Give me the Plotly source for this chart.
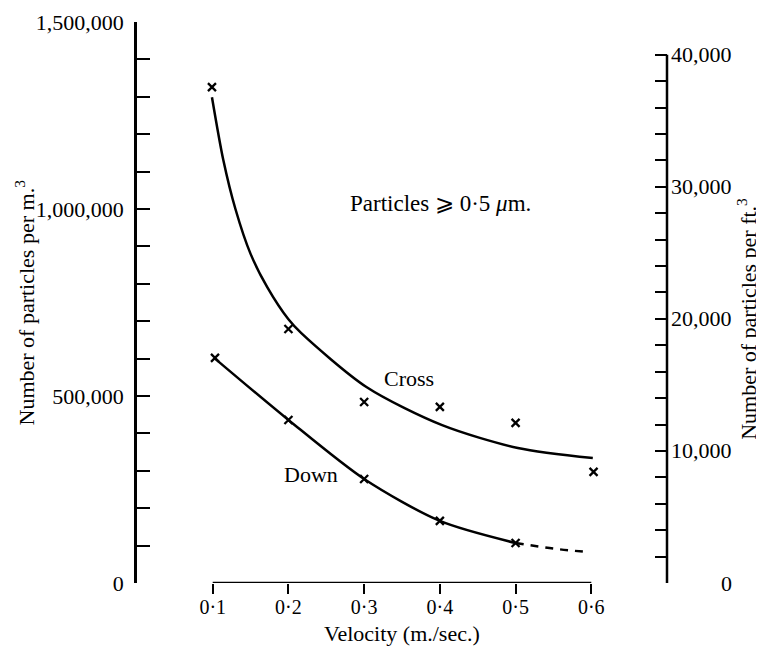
import plotly.graph_objects as go

# ---------------- data ----------------
x_tick_vals = [0.1, 0.2, 0.3, 0.4, 0.5, 0.6]
x_tick_text = ["0·1", "0·2", "0·3", "0·4", "0·5", "0·6"]

left_tick_vals = [i * 100000 for i in range(16)]
left_tick_text = ["0", "", "", "", "", "500,000", "", "", "", "",
                  "1,000,000", "", "", "", "", "1,500,000"]

right_tick_vals = [i * 2000 for i in range(21)]
right_label_vals = [0, 10000, 20000, 30000, 40000]
right_label_text = ["0", "10,000", "20,000", "30,000", "40,000"]

M3_PER_FT3 = 35.3147  # particles per m3 = particles per ft3 * 35.3147

# measured points (particles per m3)
cross_x = [0.099, 0.2, 0.3, 0.4, 0.5, 0.603]
cross_y = [1326000, 679000, 484000, 471000, 428000, 297000]
down_x = [0.103, 0.2, 0.3, 0.4, 0.5]
down_y = [602000, 436000, 278000, 166000, 107000]

# hand-drawn fitted curves
cross_curve_x = [0.099, 0.114, 0.130, 0.150, 0.172, 0.2, 0.217, 0.303, 0.403, 0.503, 0.602]
cross_curve_y = [1299000, 1131000, 1000000, 880000, 791000, 705000, 668000, 524000, 422000, 361000, 334000]
down_curve_x = [0.103, 0.2, 0.3, 0.4, 0.5]
down_curve_y = [600000, 436000, 278000, 166000, 107000]
down_dash_x = [0.5, 0.55, 0.594]
down_dash_y = [107000, 92000, 83000]

FONT = "Liberation Serif"
FS = 22
FS_X = 20

fig = go.Figure()
line_style = dict(color="black", width=2.5, shape="spline", smoothing=0.8)
fig.add_trace(go.Scatter(x=cross_curve_x, y=cross_curve_y, mode="lines", line=line_style,
                         showlegend=False, hoverinfo="skip"))
fig.add_trace(go.Scatter(x=down_curve_x, y=down_curve_y, mode="lines", line=line_style,
                         showlegend=False, hoverinfo="skip"))
fig.add_trace(go.Scatter(x=down_dash_x, y=down_dash_y, mode="lines",
                         line=dict(color="black", width=2.5, dash="8px,7px", shape="spline"),
                         showlegend=False, hoverinfo="skip"))
marker_style = dict(symbol="x-thin", size=8, line=dict(color="black", width=2.3), color="black")
fig.add_trace(go.Scatter(x=cross_x, y=cross_y, mode="markers", marker=marker_style,
                         name="Cross", showlegend=False))
fig.add_trace(go.Scatter(x=down_x, y=down_y, mode="markers", marker=marker_style,
                         name="Down", showlegend=False))
# invisible trace to bind the right axis
fig.add_trace(go.Scatter(x=[0.1], y=[0], yaxis="y2", mode="markers",
                         marker=dict(opacity=0), showlegend=False, hoverinfo="skip"))

# the page body adds an 8px offset, so the figure is 8px smaller than the window
y_max = 1500000
fig.update_layout(
    width=756, height=643,
    margin=dict(l=129, r=97, t=14, b=68, autoexpand=False),
    paper_bgcolor="white", plot_bgcolor="white",
    font=dict(family=FONT, size=FS, color="black"),
    showlegend=False,
    xaxis=dict(range=[0, 0.7], showline=False, showgrid=False, zeroline=False,
               automargin=False,
               tickvals=x_tick_vals, ticktext=x_tick_text,
               ticks="outside", ticklen=10, tickwidth=2, tickcolor="black",
               ticklabelstandoff=-4,
               tickfont=dict(family=FONT, size=FS_X)),
    yaxis=dict(range=[0, y_max], showline=True, linecolor="black", linewidth=2.5,
               showgrid=False, zeroline=False, automargin=False,
               tickvals=left_tick_vals, ticktext=left_tick_text,
               ticks="inside", ticklen=13, tickwidth=2, tickcolor="black",
               ticklabelstandoff=6, tickfont=dict(family=FONT, size=FS)),
    yaxis2=dict(range=[0, y_max / M3_PER_FT3], overlaying="y", side="right",
                showline=False, showgrid=False, zeroline=False, automargin=False,
                tickvals=right_tick_vals, showticklabels=False,
                ticks="inside", ticklen=12, tickwidth=2, tickcolor="black"),
)

# x axis line only between first and last tick
fig.add_shape(type="line", xref="x", yref="y", x0=x_tick_vals[0], x1=x_tick_vals[-1],
              y0=0, y1=0, line=dict(color="black", width=2.5))
# right axis line from 0 to 40,000
fig.add_shape(type="line", xref="paper", yref="y2", x0=1, x1=1,
              y0=right_tick_vals[0], y1=right_tick_vals[-1], line=dict(color="black", width=2.5))

# right axis labels, right-aligned
for v, t in zip(right_label_vals, right_label_text):
    fig.add_annotation(xref="paper", yref="y2", x=1, y=v, text=t, showarrow=False,
                       xanchor="right", yanchor="middle", xshift=67,
                       font=dict(family=FONT, size=FS))

# axis titles
fig.add_annotation(xref="paper", yref="paper", x=0, y=0.5, xshift=-113,
                   xanchor="center", yanchor="middle",
                   text="Number of particles per m.<sup>3</sup>", textangle=-90,
                   showarrow=False, font=dict(family=FONT, size=FS))
fig.add_annotation(xref="paper", yref="y2", x=1, y=20000, xshift=80,
                   xanchor="center", yanchor="middle",
                   text="Number of particles per ft.<sup>3</sup>", textangle=-90,
                   showarrow=False, font=dict(family=FONT, size=FS))
fig.add_annotation(xref="paper", yref="paper", x=0.5, y=0, yshift=-50,
                   xanchor="center", yanchor="middle",
                   text="Velocity (m./sec.)", showarrow=False,
                   font=dict(family=FONT, size=FS))

# in-plot labels
fig.add_annotation(x=0.279, y=1016000, text="Particles ⩾ 0·5 <i>μ</i>m.", showarrow=False,
                   xanchor="left", yanchor="middle", font=dict(family=FONT, size=23))
fig.add_annotation(x=0.324, y=548000, text="Cross", showarrow=False,
                   xanchor="left", yanchor="middle", font=dict(family=FONT, size=FS))
fig.add_annotation(x=0.192, y=289000, text="Down", showarrow=False,
                   xanchor="left", yanchor="middle", font=dict(family=FONT, size=FS))

fig.write_html("out.html")
